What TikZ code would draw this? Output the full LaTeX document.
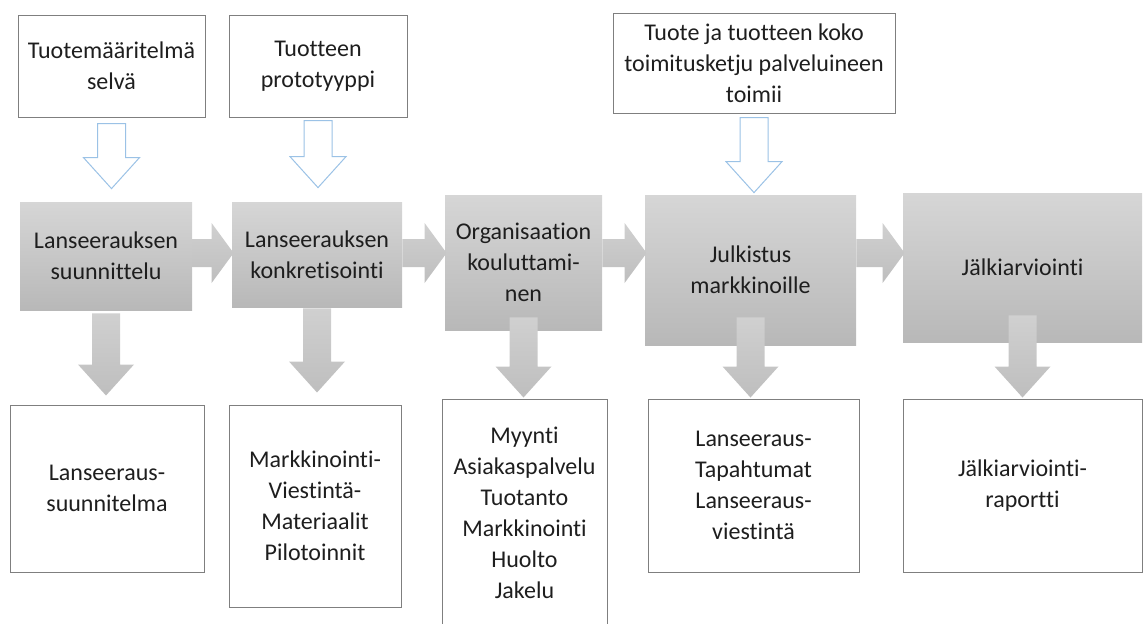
\documentclass[tikz,border=0pt]{standalone}
\usepackage{fontspec}
\setmainfont{Carlito}[Ligatures=NoCommon]
\usepackage{tikz}
\usetikzlibrary{calc,positioning}
\definecolor{boxline}{RGB}{127,127,127}
\definecolor{greytop}{RGB}{214,214,214}
\definecolor{greybot}{RGB}{184,184,184}
\definecolor{arrtop}{RGB}{208,208,208}
\definecolor{arrbot}{RGB}{190,190,190}
\definecolor{hollowblue}{RGB}{155,194,230}
\definecolor{ink}{RGB}{30,30,30}
\tikzset{
	launch diagram/.style={
		x=.5pt, y=-.5pt,
		every node/.style={font=\fontsize{12}{15.5}\selectfont, text=ink, align=center, inner sep=2pt}
		},
	sbox/.style 2 args={minimum width=#1, minimum height=#2},
	plain box/.style={draw=boxline, line width=.5pt, fill=white},
	grey box/.style={top color=greytop, bottom color=greybot},
	grey arrow/.style={top color=arrtop, bottom color=arrbot},
	hollow arrow/.style={draw=hollowblue, line width=.5pt, fill=white},
	arr shaft/.store in=\arrshaft,
	arr shaft=7pt,
	arr head/.store in=\arrhead,
	arr head=14pt,
	arr len/.store in=\arrlen,
	arr len=15.5pt,
	harr shaft/.store in=\harrshaft,
	harr shaft=7pt,
	harr head/.store in=\harrhead,
	harr head=15pt,
	harr len/.store in=\harrlen,
	harr len=11pt
}
% block arrow downwards: style, from, to, start shift, tip gap
\newcommand{\blockdown}[5]{%
	\path[#1] let \p1=($(#2.south)+(0,#4)$), \p2=($(#3.north)+(0,-#5)$) in
		(\x1-\arrshaft,\y1) -- (\x1+\arrshaft,\y1) -- (\x1+\arrshaft,\y2+\arrlen) -- (\x1+\arrhead,\y2+\arrlen)
		-- (\x1,\y2) -- (\x1-\arrhead,\y2+\arrlen) -- (\x1-\arrshaft,\y2+\arrlen) -- cycle;}
% block arrow to the right, on the axis
\newcommand{\blockright}[2]{%
	\path[grey arrow] let \p1=(#1.east), \p2=($(#2.west)+(2,0)$), \p3=(axis) in
		(\x1,\y3+\harrshaft) -- (\x2-\harrlen,\y3+\harrshaft) -- (\x2-\harrlen,\y3+\harrhead) -- (\x2,\y3)
		-- (\x2-\harrlen,\y3-\harrhead) -- (\x2-\harrlen,\y3-\harrshaft) -- (\x1,\y3-\harrshaft) -- cycle;}

\begin{document}
\begin{tikzpicture}[launch diagram]
   \useasboundingbox (0,0) rectangle (1144,623);
   \coordinate (axis) at (0,253);
   \node[plain box, sbox={93.5pt}{51pt}] (def) at (111.5,66) {Tuotemääritelmä\\selvä};
   \node[plain box, sbox={89pt}{51pt}] (proto) at (318,66) {Tuotteen\\prototyyppi};
   \node[plain box, sbox={141pt}{50pt}] (chain) at (754,63) {Tuote ja tuotteen koko\\toimitusketju palveluineen\\toimii};
   \node[grey box, sbox={86pt}{54pt}] (plan) at (106,256) {Lanseerauksen\\suunnittelu};
   \node[grey box, sbox={85pt}{52.5pt}] (concr) at (317,254.5) {Lanseerauksen\\konkretisointi};
   \node[grey box, sbox={78.5pt}{67.5pt}] (train) at (523.5,262.5) {Organisaation\\kouluttami-\\nen};
   \node[grey box, sbox={105.5pt}{75pt}] (pub) at (750.5,270) {Julkistus\\markkinoille};
   \node[grey box, sbox={119.5pt}{74.5pt}] (eval) at (1022.5,267.5) {Jälkiarviointi};
   \node[plain box, sbox={97pt}{83.5pt}] (planout) at (107,488.5) {Lanseeraus-\\suunnitelma};
   \node[plain box, sbox={86pt}{101pt}] (concrout) at (315,506) {Markkinointi-\\Viestintä-\\Materiaalit\\Pilotoinnit};
   \node[plain box, sbox={82.5pt}{114pt}] (trainout) at (524.5,513) {Myynti\\Asiakaspalvelu\\Tuotanto\\Markkinointi\\Huolto\\Jakelu};
   \node[plain box, sbox={105.5pt}{86.5pt}] (pubout) at (753.5,485.5) {Lanseeraus-\\Tapahtumat\\Lanseeraus-\\viestintä};
   \node[plain box, sbox={119.5pt}{86.5pt}] (evalout) at (1022.5,485.5) {Jälkiarviointi-\\raportti};
   \blockdown{hollow arrow}{def}{plan}{6}{13}
   \blockdown{hollow arrow}{proto}{concr}{3}{14}
   \blockdown{hollow arrow}{chain}{pub}{4}{2}
   \blockright{plan}{concr}
   \blockright{concr}{train}
   \blockright{train}{pub}
   \blockright{pub}{eval}
   \blockdown{grey arrow}{plan}{planout}{3}{9}
   \blockdown{grey arrow}{concr}{concrout}{1}{12}
   \blockdown{grey arrow}{train}{trainout}{-13}{1}
   \blockdown{grey arrow}{pub}{pubout}{-28}{1}
   \blockdown{grey arrow}{eval}{evalout}{-27}{1}
\end{tikzpicture}
\end{document}
